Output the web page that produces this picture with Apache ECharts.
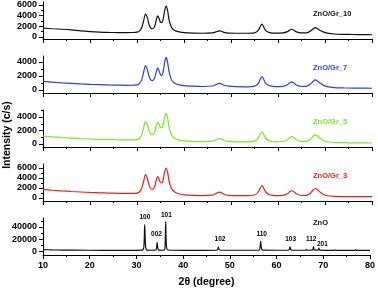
<!DOCTYPE html>
<html><head><meta charset="utf-8">
<script src="https://cdn.jsdelivr.net/npm/echarts@6/dist/echarts.min.js"></script>
<style>html,body{margin:0;padding:0;background:#fff}#c{width:378px;height:291px}</style>
</head><body><div id="c"></div>
<script>
// ---------- data ----------
var xComp = [10,12,14,16,18,20,22,24,26,28,29,30,30.5,31,31.4,31.8,32.2,32.6,33,33.4,33.8,34.1,34.4,34.7,35,35.3,35.6,35.9,36.2,36.5,36.8,37.2,37.6,38.2,39,40,42,44,46,46.8,47.3,47.6,48,48.5,49.5,51,53,55,55.8,56.3,56.6,56.9,57.4,58.2,59.5,61,62,62.5,62.9,63.3,63.9,65,66,66.8,67.4,67.9,68.4,69,69.6,70.5,72,74,76,78,80];
var yGr10 = [1650,1550,1450,1320,1150,1020,920,860,830,820, 840,920,1100,1750,3000,4300,3600,2250,1600,1550, 2100,3200,3950,3450,2800,2700,3500,5000,5800,5000, 3300,2100,1500,1150,950,820,720,700,780,950, 1100,1150,1050,860,730,700,700,780,1250,2100, 2400,2000,1200,820,720,760,1000,1300,1450,1300, 960,760,760,1050,1450,1750,1550,1200,950,720, 560,500,470,450,420];
var yGr7 = [1230,1120,1020,940,870,810,760,720,690,670, 680,740,900,1450,2500,3500,2900,1900,1380,1350, 1800,2600,3150,2750,2200,2100,2800,4000,4650,4000, 2700,1700,1200,900,730,620,540,500,570,760, 920,950,860,680,540,480,460,560,950,1650, 1900,1600,950,600,480,520,760,1020,1150,1030, 720,500,520,800,1180,1450,1280,950,700,480, 340,300,280,270,250];
var yGr5 = [1180,1060,960,880,810,750,700,660,630,610, 610,660,820,1350,2400,3350,2850,1950,1450,1420, 1900,2700,3200,2900,2450,2380,3000,4000,4550,3950, 2600,1600,1100,780,580,470,380,350,420,620, 780,800,720,520,380,320,310,420,850,1550, 1800,1500,850,450,320,370,640,940,1080,960, 620,360,380,680,1080,1360,1180,840,560,330, 220,190,170,160,150];
var yGr3 = [1700,1550,1420,1300,1200,1110,1040,980,940,910, 920,980,1200,1950,3300,4700,3950,2500,1800,1780, 2450,3600,4300,3750,3100,3000,3800,5300,6000,5200, 3500,2200,1550,1100,800,620,520,490,580,880, 1130,1180,1050,760,540,470,460,600,1200,2150, 2500,2100,1200,640,470,520,860,1280,1450,1280, 840,500,520,900,1500,1900,1650,1150,760,450, 320,290,280,270,260];
var xZnO = [10,12,14,20,25,30,31.3,31.6,31.77,31.95,32.2,33,34.1,34.3,34.43,34.6,34.8,35.5,36.0,36.15,36.26,36.4,36.7,38,42,47.2,47.4,47.55,47.7,48,56.2,56.45,56.6,56.75,57.0,62.5,62.75,62.88,63.05,63.3,66.2,66.38,66.55,67.7,67.9,68.1,68.9,69.05,69.25,72.4,72.55,72.7,76.8,76.95,77.1,80];
var yZnO = [2500,1900,1600,1300,1200,1200,1400,8000,44000,9000,1600,1300,1500,5000,14500,4000,1400,1300,1800,12000,49000,12000,1700,1300,1200,1300,3000,6500,2500,1300,1300,5000,16500,5000,1400,1300,3000,7000,2500,1300,1300,3000,1300,1500,7500,2000,1500,4800,1500,1200,2000,1200,1200,2500,1200,1100];
var peakNames = ['100','002','101','102','110','103','112','201'];
var peakX = [31.8,34.3,36.4,47.9,56.8,63.0,67.4,69.8];
var peakLabelY = [56000,28000,59500,20000,28000,20000,20000,11500];
var seriesNames = ['ZnO/Gr_10','ZnO/Gr_7','ZnO/Gr_5','ZnO/Gr_3','ZnO'];
var seriesColors = ['#111111','#2a3cf0','#7be81e','#ee1c1c','#111111'];
var yMajor = [[0,2000,4000,6000],[0,2000,4000],[0,2000,4000],[0,2000,4000,6000],[0,20000,40000]];
var yMinor = [[1000,3000,5000],[1000,3000],[1000,3000,5000],[1000,3000,5000],[10000,30000,50000]];
var yMin = [-375,-430,-445,-600,-6600];
var yMax = [6560,4860,5040,6800,55000];
var xTickMin = 10, xTickMax = 80, xTickStep = 10;

// ---------- build ----------
var tops = [2,56,110,164,218];
var H = 37, L = 43, W = 329;
var ys = [yGr10,yGr7,yGr5,yGr3,yZnO];
var xs = [xComp,xComp,xComp,xComp,xZnO];
var font = 'Liberation Sans, Arial, sans-serif';
function hidSplit(){return {show:false,showMinLine:false,showMaxLine:false};}
var grids=[],xAxes=[],yAxes=[],series=[],titles=[];
for (var i=0;i<5;i++){
  grids.push({left:L,width:W,top:tops[i],height:H,show:false,borderWidth:0});
  xAxes.push({type:'value',gridIndex:i,min:xTickMin,max:xTickMax,interval:xTickStep,position:'bottom',
    axisLine:{show:true,onZero:false,lineStyle:{color:'#000',width:1}},
    axisTick:{show:true,length:4,inside:false,lineStyle:{color:'#000',width:1}},
    minorTick:{show:true,splitNumber:2,length:2,lineStyle:{color:'#000',width:1}},
    splitLine:hidSplit(),minorSplitLine:{show:false},splitArea:{show:false},
    axisLabel:{show:i===4,color:'#000',fontFamily:font,fontWeight:'bold',fontSize:9,margin:6},
    name:i===4?'2\u03b8 (degree)':'',nameLocation:'middle',nameGap:22,
    nameTextStyle:{color:'#000',fontFamily:font,fontWeight:'bold',fontSize:10.5}
  });
  yAxes.push({type:'value',gridIndex:i,min:yMin[i],max:yMax[i],position:'left',
    axisLine:{show:true,onZero:false,lineStyle:{color:'#000',width:1}},
    axisTick:{show:true,length:4,customValues:yMajor[i],lineStyle:{color:'#000',width:1}},
    axisLabel:{show:true,customValues:yMajor[i],color:'#000',fontFamily:font,fontWeight:'bold',fontSize:9,margin:6,
      formatter:function(v){return String(Math.round(v));}},
    splitLine:hidSplit(),minorSplitLine:{show:false},splitArea:{show:false}
  });
  yAxes.push({type:'value',gridIndex:i,min:yMin[i],max:yMax[i],position:'left',
    axisLine:{show:false,onZero:false},
    axisTick:{show:true,length:2,customValues:yMinor[i],lineStyle:{color:'#000',width:1}},
    axisLabel:{show:false},splitLine:hidSplit(),minorSplitLine:{show:false},splitArea:{show:false}
  });
  var d=[];
  for (var k=0;k<xs[i].length;k++) d.push([xs[i][k],ys[i][k]]);
  series.push({type:'line',xAxisIndex:i,yAxisIndex:2*i,data:d,showSymbol:false,symbol:'none',
    smooth:0.3,lineStyle:{color:seriesColors[i],width:1.2},animation:false,z:3});
  titles.push({text:seriesNames[i],left:313,top:tops[i]+(i===4?1:8),padding:0,
    textStyle:{color:seriesColors[i],fontFamily:font,fontWeight:'bold',fontSize:7.5}});
}
var lab=[];
for (var j=0;j<peakNames.length;j++) lab.push({value:[peakX[j],peakLabelY[j]],name:peakNames[j]});
series.push({type:'scatter',xAxisIndex:4,yAxisIndex:8,data:lab,symbolSize:0.1,clip:false,
  itemStyle:{color:'rgba(0,0,0,0)'},animation:false,silent:true,z:4,
  label:{show:true,position:'inside',formatter:'{b}',color:'#000',opacity:1,fontFamily:font,fontWeight:'bold',fontSize:6.5}});
var chart=echarts.init(document.getElementById('c'),null,{renderer:'canvas'});
chart.setOption({
  animation:false,backgroundColor:'#fff',
  title:titles,grid:grids,xAxis:xAxes,yAxis:yAxes,series:series,
  graphic:[{type:'text',x:7,y:135,rotation:Math.PI/2,
    style:{text:'Intensity (c/s)',fill:'#000',font:'bold 10.5px Liberation Sans, Arial, sans-serif',align:'center',verticalAlign:'middle'}}]
});
</script></body></html>
